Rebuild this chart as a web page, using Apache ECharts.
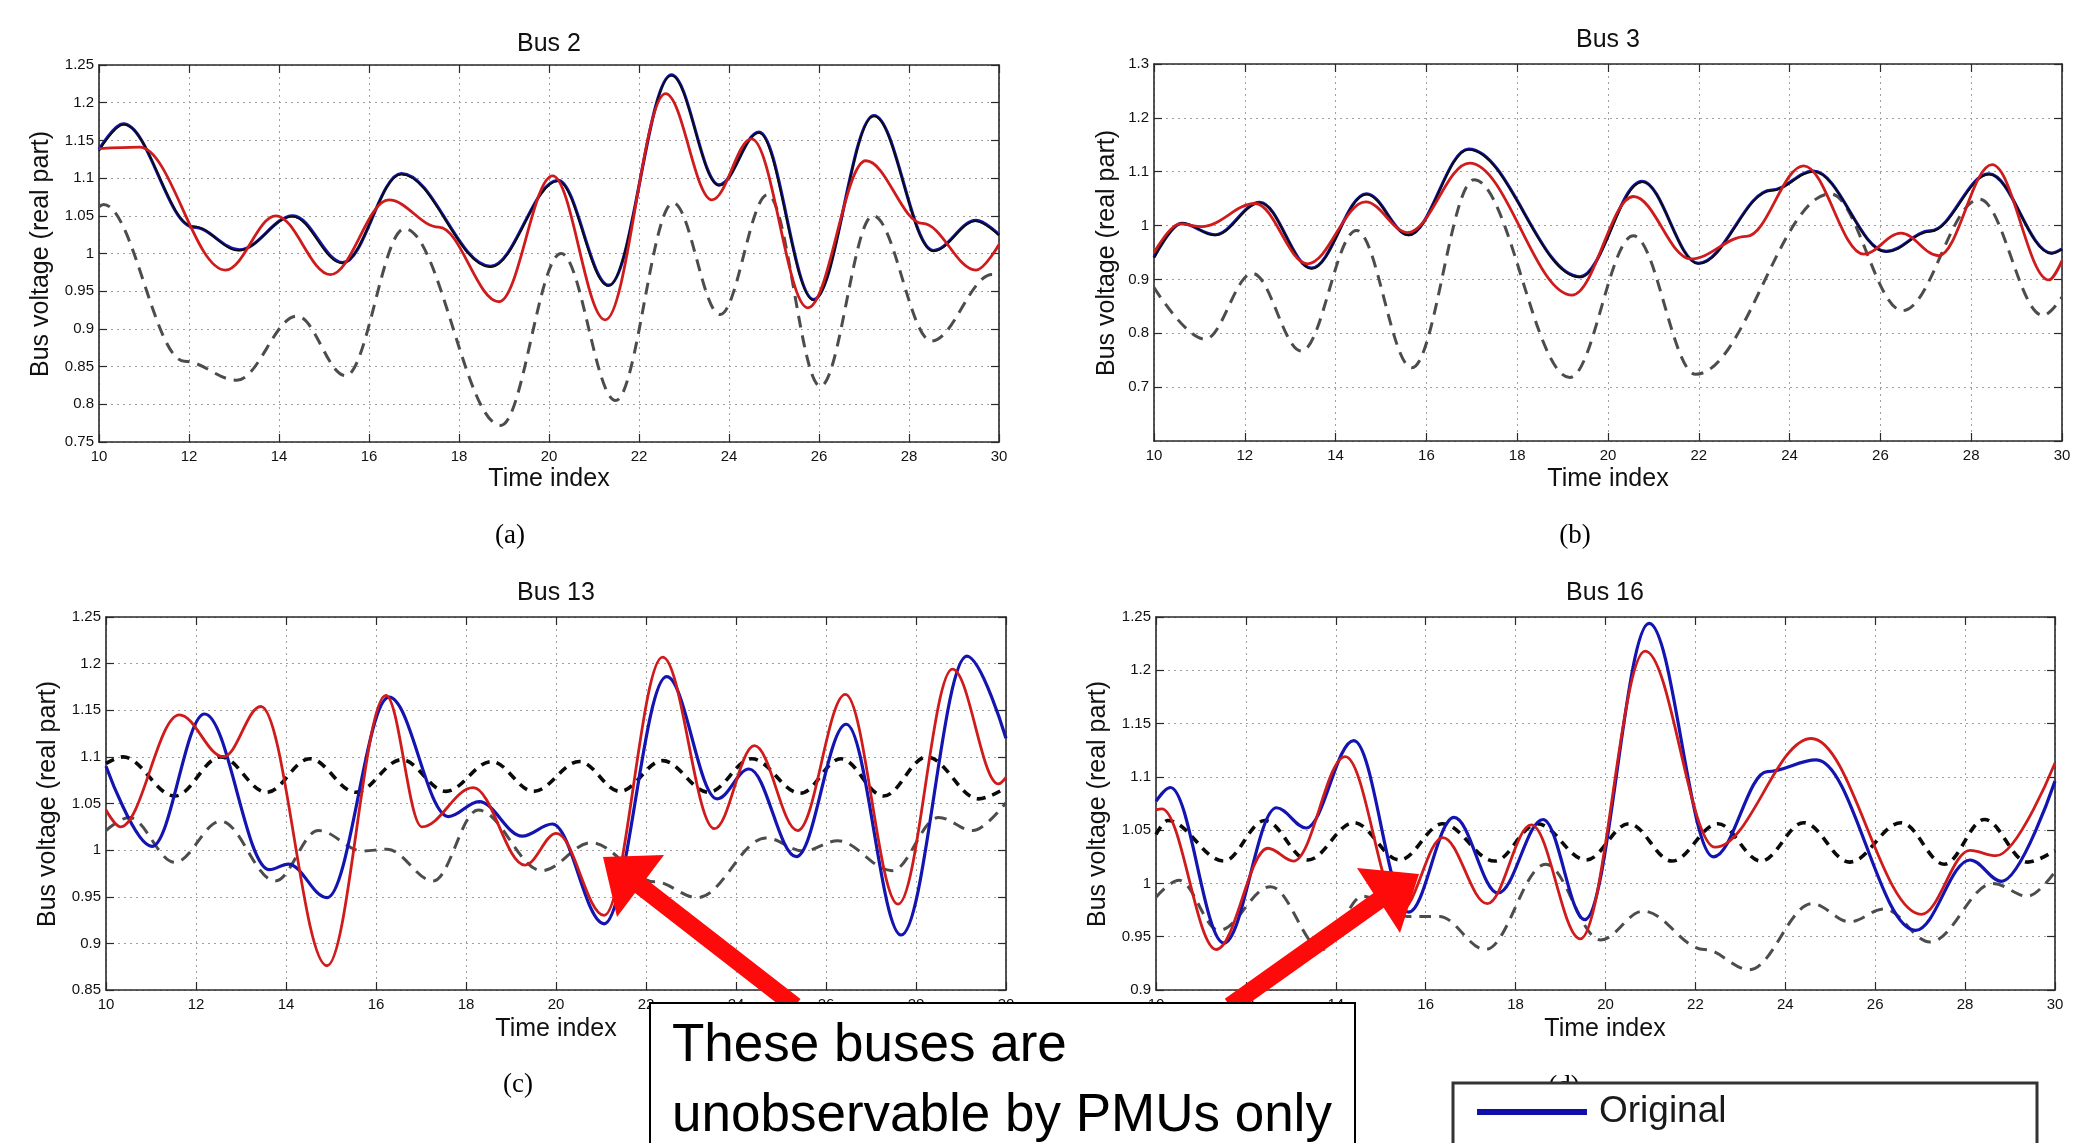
<!DOCTYPE html>
<html>
<head>
<meta charset="utf-8">
<script src="https://cdn.jsdelivr.net/npm/echarts@6/dist/echarts.min.js"></script>
<style>
html,body{margin:0;padding:0;background:#ffffff;}
#chart{width:2093px;height:1143px;}
</style>
</head>
<body>
<div id="chart"></div>
<script>
// ---------- tick settings (min, max, step) ----------
const timeTicks  = [10, 30, 2];
const bus2Ticks  = [0.75, 1.25, 0.05];
const bus3Ticks  = [0.6, 1.3, 0.1];
const bus13Ticks = [0.85, 1.25, 0.05];
const bus16Ticks = [0.9, 1.25, 0.05];

const panelTitles  = ['Bus 2', 'Bus 3', 'Bus 13', 'Bus 16'];
const panelLetters = ['(a)', '(b)', '(c)', '(d)'];
const xAxisTitle = 'Time index';
const yAxisTitle = 'Bus voltage (real part)';
const legendNames = ['Original'];
const noteLines = ['These buses are', 'unobservable by PMUs only'];

// ---------- Bus 2 ----------
const bus2Original = [[10,1.138],[10.54,1.172],[12.1,1.035],[13.12,1.005],[14.31,1.05],[15.42,0.988],[16.72,1.106],[18.7,0.983],[20.2,1.097],[21.33,0.958],[22.72,1.237],[23.78,1.091],[24.67,1.161],[25.88,0.939],[27.22,1.183],[28.54,1.004],[29.49,1.044],[30,1.025]];
const bus2Black    = [[10,1.136],[10.55,1.171],[12.1,1.036],[13.1,1.004],[14.3,1.049],[15.4,0.987],[16.72,1.105],[18.7,0.982],[20.2,1.096],[21.32,0.957],[22.72,1.236],[23.78,1.09],[24.66,1.16],[25.88,0.938],[27.22,1.182],[28.54,1.003],[29.48,1.043],[30,1.024]];
const bus2Red      = [[10,1.139],[10.9,1.141],[12.81,0.978],[13.93,1.05],[15.14,0.972],[16.44,1.071],[17.55,1.035],[18.89,0.936],[20.08,1.103],[21.25,0.912],[22.59,1.212],[23.62,1.071],[24.5,1.152],[25.75,0.928],[27.04,1.123],[28.3,1.04],[29.49,0.978],[30,1.012]];
const bus2Gray     = [[10,1.062],[10.1,1.065],[11.9,0.857],[13.06,0.832],[14.4,0.917],[15.48,0.838],[16.79,1.033],[18.93,0.772],[20.27,1.0],[21.48,0.805],[22.76,1.067],[23.8,0.919],[24.86,1.078],[26.03,0.824],[27.2,1.05],[28.5,0.884],[29.85,0.972],[30,0.97]];

// ---------- Bus 3 ----------
const bus3Original = [[10,0.941],[10.61,1.004],[11.34,0.983],[12.33,1.043],[13.47,0.921],[14.68,1.059],[15.61,0.983],[16.93,1.142],[19.38,0.905],[20.75,1.082],[21.99,0.93],[23.6,1.066],[24.52,1.101],[26.13,0.952],[27.1,0.99],[28.39,1.096],[29.77,0.949],[30,0.957]];
const bus3Black    = [[10,0.94],[10.62,1.005],[11.34,0.982],[12.34,1.042],[13.47,0.92],[14.68,1.058],[15.61,0.982],[16.93,1.141],[19.38,0.904],[20.76,1.081],[21.99,0.929],[23.6,1.065],[24.53,1.1],[26.13,0.951],[27.1,0.989],[28.4,1.095],[29.77,0.948],[30,0.956]];
const bus3Red      = [[10,0.95],[10.57,1.003],[11.05,0.998],[12.23,1.041],[13.38,0.929],[14.66,1.044],[15.59,0.987],[16.95,1.116],[19.21,0.871],[20.56,1.054],[21.82,0.938],[23.05,0.98],[24.31,1.111],[25.63,0.947],[26.45,0.986],[27.28,0.944],[28.46,1.113],[29.71,0.899],[30,0.935]];
const bus3Gray     = [[10,0.885],[11.12,0.789],[12.17,0.911],[13.25,0.767],[14.46,0.991],[15.68,0.736],[17.05,1.085],[19.16,0.718],[20.56,0.981],[21.93,0.724],[24.9,1.059],[26.49,0.842],[28.18,1.049],[29.58,0.833],[30,0.867]];

// ---------- Bus 13 ----------
const bus13Original = [[10,1.09],[11.02,1.004],[12.19,1.146],[13.63,0.979],[14.05,0.985],[14.91,0.949],[16.29,1.164],[17.61,1.036],[18.29,1.052],[19.25,1.015],[19.92,1.028],[21.07,0.921],[22.46,1.186],[23.58,1.055],[24.29,1.087],[25.34,0.993],[26.45,1.135],[27.67,0.909],[29.13,1.208],[30,1.12]];
const bus13Red      = [[10,1.043],[10.32,1.025],[11.63,1.145],[12.61,1.1],[13.44,1.154],[14.91,0.876],[16.22,1.166],[17.02,1.025],[18.16,1.067],[19.31,0.984],[20.01,1.018],[21.07,0.93],[22.37,1.207],[23.52,1.023],[24.41,1.112],[25.37,1.021],[26.43,1.167],[27.6,0.942],[28.81,1.194],[29.83,1.071],[30,1.078]];
const bus13BlackDash = [[10,1.093],[10.38,1.1],[11.53,1.058],[12.55,1.1],[13.57,1.062],[14.53,1.098],[15.55,1.062],[16.57,1.097],[17.55,1.063],[18.57,1.095],[19.5,1.063],[20.52,1.095],[21.42,1.063],[22.37,1.096],[23.39,1.062],[24.35,1.098],[25.43,1.061],[26.33,1.098],[27.28,1.058],[28.24,1.1],[29.39,1.055],[30,1.067]];
const bus13Gray     = [[10,1.021],[10.51,1.035],[11.53,0.987],[12.55,1.031],[13.76,0.967],[14.72,1.021],[15.7,0.999],[16.25,1.001],[17.27,0.967],[18.27,1.043],[19.69,0.978],[20.78,1.008],[22.2,0.966],[23.14,0.949],[24.67,1.013],[25.5,0.999],[26.26,1.01],[27.47,0.978],[28.5,1.035],[29.26,1.021],[30,1.051]];

// ---------- Bus 16 ----------
const bus16Original = [[10,1.077],[10.32,1.09],[11.51,0.944],[12.68,1.071],[13.34,1.052],[14.4,1.134],[15.62,0.973],[16.63,1.062],[17.61,0.991],[18.61,1.06],[19.54,0.966],[20.97,1.244],[22.4,1.025],[23.6,1.105],[24.69,1.116],[26.9,0.956],[28.11,1.022],[28.81,1.002],[30,1.096]];
const bus16Red      = [[10,1.069],[10.13,1.07],[11.34,0.938],[12.49,1.033],[13.06,1.021],[14.21,1.119],[15.45,0.975],[16.38,1.043],[17.37,0.981],[18.35,1.055],[19.44,0.948],[20.88,1.218],[22.44,1.034],[24.58,1.136],[27.03,0.971],[28.11,1.031],[28.69,1.026],[30,1.113]];
const bus16BlackDash = [[10,1.046],[10.26,1.059],[11.51,1.021],[12.42,1.059],[13.38,1.022],[14.4,1.057],[15.42,1.022],[16.38,1.056],[17.53,1.021],[18.48,1.056],[19.57,1.022],[20.52,1.056],[21.48,1.021],[22.5,1.056],[23.46,1.021],[24.41,1.057],[25.43,1.02],[26.58,1.057],[27.54,1.018],[28.43,1.06],[29.39,1.02],[30,1.031]];
const bus16Gray     = [[10,0.987],[10.51,1.003],[11.4,0.956],[12.55,0.997],[13.7,0.938],[14.6,0.988],[15.6,0.969],[16.3,0.969],[17.33,0.938],[18.67,1.018],[19.89,0.947],[20.84,0.974],[22.2,0.938],[23.2,0.919],[24.6,0.981],[25.43,0.964],[26.2,0.976],[27.22,0.945],[28.62,1.0],[29.39,0.988],[30,1.011]];

// ---------- styles & layout ----------
const FONT = '"Liberation Sans", Arial, Helvetica, sans-serif';
const SERIF = '"Liberation Serif", "Times New Roman", serif';
const sBlue = {color:'#1414b0', width:3.2, type:'solid'};
const sBlack = {color:'#0c0c0c', width:1.8, type:'solid'};
const sRed = {color:'#cf1b1b', width:2.8, type:'solid'};
const sGray = {color:'#4c4c4c', width:3, type:[12,8]};
const sBlackDash = {color:'#0a0a0a', width:3.6, type:[9,7]};

const gridBoxes = [[99,65,900,377],[1154,64,908,377],[106,617,900,373],[1156,617,899,373]];

const panels = [
  {ticks: bus2Ticks, hideMin:false, lines:[[bus2Gray,sGray],[bus2Original,sBlue],[bus2Black,sBlack],[bus2Red,sRed]]},
  {ticks: bus3Ticks, hideMin:true,  lines:[[bus3Gray,sGray],[bus3Original,sBlue],[bus3Black,sBlack],[bus3Red,sRed]]},
  {ticks: bus13Ticks, hideMin:false, lines:[[bus13Gray,sGray],[bus13BlackDash,sBlackDash],[bus13Original,sBlue],[bus13Red,sRed]]},
  {ticks: bus16Ticks, hideMin:false, lines:[[bus16Gray,sGray],[bus16BlackDash,sBlackDash],[bus16Original,sBlue],[bus16Red,sRed]]}
];

const axisLineStyle = {color:'#2a2a2a', width:1.6};
const tickStyle = {color:'#2a2a2a', width:1.2};
const gridLineStyle = {color:'#a0a0a0', width:1, type:[2,4]};

const grids = [], xAxes = [], yAxes = [], series = [];
panels.forEach((p, i) => {
  const b = gridBoxes[i];
  grids.push({left:b[0], top:b[1], width:b[2], height:b[3], containLabel:false, outerBoundsMode:'none'});
  xAxes.push({gridIndex:i, type:'value', position:'bottom', min:timeTicks[0], max:timeTicks[1], interval:timeTicks[2],
    axisLine:{show:true, onZero:false, lineStyle:axisLineStyle},
    axisTick:{show:true, inside:true, length:8, lineStyle:tickStyle},
    axisLabel:{show:true, margin:7, color:'#111', fontSize:15, fontFamily:FONT},
    splitLine:{show:true, lineStyle:gridLineStyle}});
  xAxes.push({gridIndex:i, type:'value', position:'top', min:timeTicks[0], max:timeTicks[1], interval:timeTicks[2],
    axisLine:{show:true, onZero:false, lineStyle:axisLineStyle},
    axisTick:{show:true, inside:true, length:8, lineStyle:tickStyle},
    axisLabel:{show:false}, splitLine:{show:false}});
  yAxes.push({gridIndex:i, type:'value', position:'left', min:p.ticks[0], max:p.ticks[1], interval:p.ticks[2],
    axisLine:{show:true, onZero:false, lineStyle:axisLineStyle},
    axisTick:{show:true, inside:true, length:8, lineStyle:tickStyle},
    axisLabel:{show:true, margin:5, color:'#111', fontSize:15, fontFamily:FONT, showMinLabel: !p.hideMin},
    splitLine:{show:true, lineStyle:gridLineStyle}});
  yAxes.push({gridIndex:i, type:'value', position:'right', min:p.ticks[0], max:p.ticks[1], interval:p.ticks[2],
    axisLine:{show:true, onZero:false, lineStyle:axisLineStyle},
    axisTick:{show:true, inside:true, length:8, lineStyle:tickStyle},
    axisLabel:{show:false}, splitLine:{show:false}});
  p.lines.forEach((ln, k) => {
    series.push({type:'line', xAxisIndex:2*i, yAxisIndex:2*i, data:ln[0],
      showSymbol:false, symbol:'none', smooth:0.36, smoothMonotone:'x',
      lineStyle:ln[1], silent:true, animation:false, z:2+k});
  });
});

// ---------- free texts & annotations ----------
function txt(text, x, y, size, opts) {
  opts = opts || {};
  return {type:'text', x:x, y:y, z:opts.z || 100, rotation:opts.rotation || 0,
    style:{text:text, font:(opts.weight||'normal') + ' ' + size + 'px ' + (opts.family || FONT),
      fill:opts.fill || '#111', textAlign:opts.align || 'center', textVerticalAlign:'middle',
      align:opts.align || 'center', verticalAlign:'middle'}};
}
const titlePos  = [[549,44],[1608,40],[556,593],[1605,593]];
const xNamePos  = [[549,479],[1608,479],[556,1029],[1605,1029]];
const yNamePos  = [[41,254],[1107,253],[48,804],[1098,804]];
const letterPos = [[510,536],[1575,536],[518,1085],[1564,1087]];

const graphics = [];
for (let i = 0; i < 4; i++) {
  graphics.push(txt(panelTitles[i], titlePos[i][0], titlePos[i][1], 25));
  graphics.push(txt(xAxisTitle, xNamePos[i][0], xNamePos[i][1], 25));
  graphics.push(txt(yAxisTitle, yNamePos[i][0], yNamePos[i][1], 25, {rotation:Math.PI/2}));
  graphics.push(txt(panelLetters[i], letterPos[i][0], letterPos[i][1], 27, {family:SERIF, fill:'#000'}));
}
graphics.push({type:'polygon', z:110, shape:{points:[[603,857],[664,855],[646,879],[800.5,999],[789.5,1013],[635,893],[617,917]]}, style:{fill:'#ff0a0a'}});
graphics.push({type:'polygon', z:110, shape:{points:[[1419,874],[1357,868],[1373.3,893.2],[1224.8,998.7],[1235.2,1013.3],[1383.7,907.8],[1400,933]]}, style:{fill:'#ff0a0a'}});
graphics.push({type:'rect', z:120, shape:{x:650, y:1003, width:705, height:200}, style:{fill:'#ffffff', stroke:'#000000', lineWidth:2}});
graphics.push(txt(noteLines[0], 672, 1046, 53, {align:'left', fill:'#000', z:121}));
graphics.push(txt(noteLines[1], 672, 1116, 53, {align:'left', fill:'#000', z:121}));
graphics.push({type:'rect', z:120, shape:{x:1453, y:1083, width:584, height:120}, style:{fill:'#ffffff', stroke:'#333333', lineWidth:3}});
graphics.push({type:'line', z:121, shape:{x1:1477, y1:1112, x2:1587, y2:1112}, style:{stroke:'#1010a8', lineWidth:6}});
graphics.push(txt(legendNames[0], 1599, 1112, 37, {align:'left', fill:'#1a1a1a', z:121}));

const chart = echarts.init(document.getElementById('chart'), null, {renderer:'canvas', width:2093, height:1143});
chart.setOption({
  animation:false,
  backgroundColor:'#ffffff',
  grid:grids, xAxis:xAxes, yAxis:yAxes, series:series,
  graphic:{elements:graphics}
});
</script>
</body>
</html>
